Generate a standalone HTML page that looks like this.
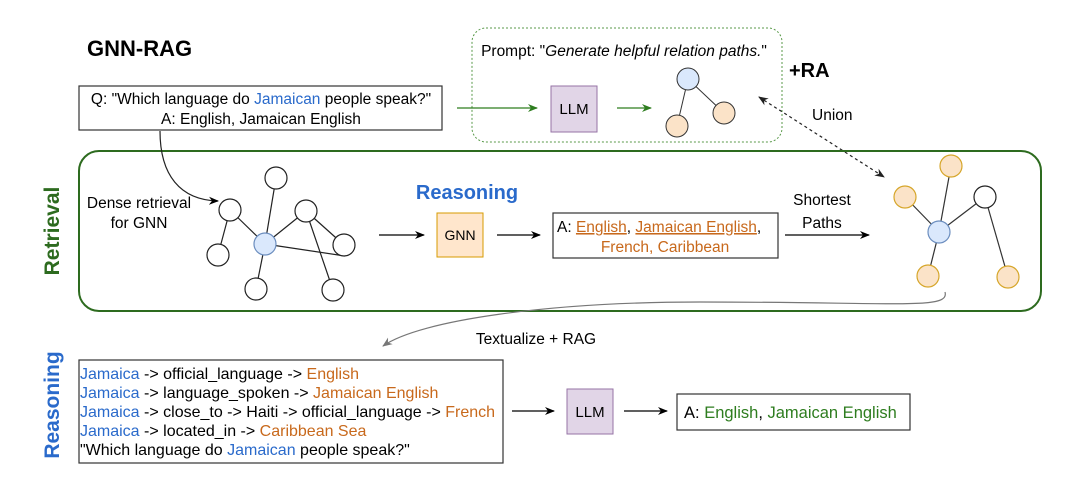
<!DOCTYPE html>
<html><head><meta charset="utf-8"><style>
html,body{margin:0;padding:0;background:#fff;}
svg{display:block;font-family:"Liberation Sans",sans-serif;}
</style></head><body>
<svg width="1080" height="486" viewBox="0 0 1080 486" xmlns="http://www.w3.org/2000/svg">
<defs>
<marker id="ak" markerWidth="10" markerHeight="10" refX="9" refY="5" orient="auto" markerUnits="userSpaceOnUse"><path d="M0,1 L10,5 L0,9 L3,5 Z" fill="#000"/></marker>
<marker id="ag" markerWidth="10" markerHeight="10" refX="9" refY="5" orient="auto" markerUnits="userSpaceOnUse"><path d="M0,1 L10,5 L0,9 L3,5 Z" fill="#2e7d1f"/></marker>
<marker id="ay" markerWidth="10" markerHeight="10" refX="9" refY="5" orient="auto" markerUnits="userSpaceOnUse"><path d="M0,1 L10,5 L0,9 L3,5 Z" fill="#777"/></marker>
<marker id="ad" markerWidth="10" markerHeight="10" refX="9" refY="5" orient="auto-start-reverse" markerUnits="userSpaceOnUse"><path d="M0,1 L10,5 L0,9 L3,5 Z" fill="#222"/></marker>
</defs>

<text x="87" y="56" font-size="22" font-weight="bold">GNN-RAG</text>

<rect x="79" y="86" width="363" height="44" fill="#fff" stroke="#333" stroke-width="1.2"/>
<text x="261" y="104" font-size="15.5" text-anchor="middle">Q: "Which language do <tspan fill="#2a6acb">Jamaican</tspan> people speak?"</text>
<text x="261" y="124" font-size="15.5" text-anchor="middle">A: English, Jamaican English</text>

<rect x="472" y="28" width="310" height="114" rx="14" fill="none" stroke="#5a9a4a" stroke-width="1" stroke-dasharray="2,2"/>
<text x="624" y="56" font-size="15.5" text-anchor="middle">Prompt: "<tspan font-style="italic">Generate helpful relation paths.</tspan>"</text>
<line x1="457" y1="108" x2="537" y2="108" stroke="#2e7d1f" stroke-width="1.3" marker-end="url(#ag)"/>
<rect x="551" y="86" width="46" height="46" fill="#e1d5e7" stroke="#9673a6"/>
<text x="574" y="114" font-size="15" text-anchor="middle">LLM</text>
<line x1="617" y1="108" x2="651" y2="108" stroke="#2e7d1f" stroke-width="1.3" marker-end="url(#ag)"/>
<line x1="688" y1="79" x2="677" y2="126" stroke="#333"/>
<line x1="688" y1="79" x2="724" y2="113" stroke="#333"/>
<circle cx="688" cy="79" r="11" fill="#dae8fc" stroke="#333"/>
<circle cx="677" cy="126" r="11" fill="#fbe3c8" stroke="#333"/>
<circle cx="724" cy="113" r="11" fill="#fbe3c8" stroke="#333"/>
<text x="789" y="77" font-size="20" font-weight="bold">+RA</text>
<text x="812" y="120" font-size="15.5">Union</text>
<line x1="759" y1="97" x2="884" y2="177" stroke="#222" stroke-width="1.2" stroke-dasharray="3,3" marker-start="url(#ad)" marker-end="url(#ad)"/>

<rect x="79" y="151" width="962" height="160" rx="20" fill="none" stroke="#2d6b1f" stroke-width="2"/>
<text transform="translate(59,231) rotate(-90)" font-size="21" font-weight="bold" fill="#2d6b1f" text-anchor="middle">Retrieval</text>
<path d="M160,131 C160,175 180,200 218,201" fill="none" stroke="#222" stroke-width="1.2" marker-end="url(#ak)"/>
<text x="139" y="208" font-size="15.5" text-anchor="middle">Dense retrieval</text>
<text x="139" y="228" font-size="15.5" text-anchor="middle">for GNN</text>

<g stroke="#222" stroke-width="1.2">
<line x1="230" y1="210" x2="218" y2="255"/>
<line x1="230" y1="210" x2="265" y2="244"/>
<line x1="276" y1="178" x2="265" y2="244"/>
<line x1="265" y1="244" x2="306" y2="211"/>
<line x1="265" y1="244" x2="256" y2="289"/>
<line x1="265" y1="244" x2="345" y2="256"/>
<line x1="306" y1="211" x2="344" y2="245"/>
<line x1="306" y1="211" x2="333" y2="290"/>
</g>
<g stroke="#222" stroke-width="1.2" fill="#fff">
<circle cx="276" cy="178" r="11"/><circle cx="230" cy="210" r="11"/><circle cx="218" cy="255" r="11"/>
<circle cx="256" cy="289" r="11"/><circle cx="306" cy="211" r="11"/><circle cx="344" cy="245" r="11"/>
<circle cx="333" cy="290" r="11"/>
</g>
<circle cx="265" cy="244" r="11" fill="#dae8fc" stroke="#6c8ebf" stroke-width="1.2"/>

<line x1="379" y1="235" x2="424" y2="235" stroke="#000" stroke-width="1.2" marker-end="url(#ak)"/>
<text x="467" y="199" font-size="20" font-weight="bold" fill="#2a6acb" text-anchor="middle">Reasoning</text>
<rect x="437" y="213" width="46" height="44" fill="#ffe6cc" stroke="#d79b00"/>
<text x="460" y="240" font-size="14" text-anchor="middle">GNN</text>
<line x1="497" y1="235" x2="540" y2="235" stroke="#000" stroke-width="1.2" marker-end="url(#ak)"/>
<rect x="553" y="213" width="225" height="45" fill="#fff" stroke="#333" stroke-width="1.2"/>
<text x="557" y="232" font-size="15.5">A: <tspan fill="#c8691c" text-decoration="underline">English</tspan>, <tspan fill="#c8691c" text-decoration="underline">Jamaican English</tspan>,</text>
<text x="665" y="252" font-size="15.5" fill="#c8691c" text-anchor="middle">French, Caribbean</text>
<text x="822" y="205" font-size="15.5" text-anchor="middle">Shortest</text>
<text x="822" y="228" font-size="15.5" text-anchor="middle">Paths</text>
<line x1="785" y1="235" x2="869" y2="235" stroke="#000" stroke-width="1.2" marker-end="url(#ak)"/>

<g stroke="#333" stroke-width="1.2">
<line x1="939" y1="232" x2="951" y2="166"/>
<line x1="939" y1="232" x2="905" y2="197"/>
<line x1="939" y1="232" x2="985" y2="197"/>
<line x1="939" y1="232" x2="928" y2="276"/>
<line x1="985" y1="197" x2="1008" y2="277"/>
</g>
<g stroke="#d6a62a" stroke-width="1.2" fill="#fbe3c8">
<circle cx="951" cy="166" r="11"/><circle cx="905" cy="197" r="11"/>
<circle cx="928" cy="276" r="11"/><circle cx="1008" cy="277" r="11"/>
</g>
<circle cx="985" cy="197" r="11" fill="#fff" stroke="#222" stroke-width="1.2"/>
<circle cx="939" cy="232" r="11" fill="#dae8fc" stroke="#6c8ebf" stroke-width="1.2"/>

<path d="M945,292 C950,310 900,302 700,302 C550,302 420,320 383,346" fill="none" stroke="#777" stroke-width="1.2" marker-end="url(#ay)"/>
<text x="536" y="344" font-size="15.5" text-anchor="middle">Textualize + RAG</text>

<text transform="translate(59,405) rotate(-90)" font-size="21" font-weight="bold" fill="#2a6acb" text-anchor="middle">Reasoning</text>
<rect x="79" y="360" width="424" height="103" fill="#fff" stroke="#333" stroke-width="1.2"/>
<g font-size="16">
<text x="80" y="379"><tspan fill="#2a6acb">Jamaica</tspan> -&gt; official_language -&gt; <tspan fill="#c8691c">English</tspan></text>
<text x="80" y="398"><tspan fill="#2a6acb">Jamaica</tspan> -&gt; language_spoken -&gt; <tspan fill="#c8691c">Jamaican English</tspan></text>
<text x="80" y="417"><tspan fill="#2a6acb">Jamaica</tspan> -&gt; close_to -&gt; Haiti -&gt; official_language -&gt; <tspan fill="#c8691c">French</tspan></text>
<text x="80" y="436"><tspan fill="#2a6acb">Jamaica</tspan> -&gt; located_in -&gt; <tspan fill="#c8691c">Caribbean Sea</tspan></text>
<text x="80" y="455">"Which language do <tspan fill="#2a6acb">Jamaican</tspan> people speak?"</text>
</g>
<line x1="512" y1="411" x2="554" y2="411" stroke="#000" stroke-width="1.2" marker-end="url(#ak)"/>
<rect x="567" y="389" width="46" height="45" fill="#e1d5e7" stroke="#9673a6"/>
<text x="590" y="417" font-size="15" text-anchor="middle">LLM</text>
<line x1="624" y1="411" x2="667" y2="411" stroke="#000" stroke-width="1.2" marker-end="url(#ak)"/>
<rect x="677" y="394" width="233" height="36" fill="#fff" stroke="#333" stroke-width="1.2"/>
<text x="684" y="418" font-size="16.5">A: <tspan fill="#2e7d1f">English</tspan>, <tspan fill="#2e7d1f">Jamaican English</tspan></text>
</svg>
</body></html>
